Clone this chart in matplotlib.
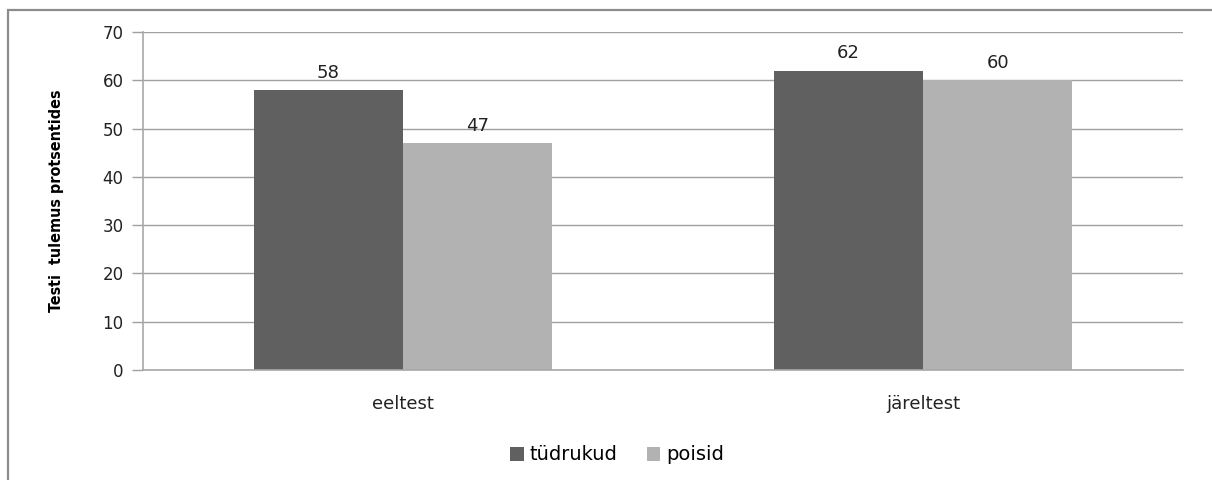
import numpy as np
import matplotlib
matplotlib.use('Agg')
from matplotlib import pyplot as plt
from matplotlib.patches import Rectangle, Patch

plt.rcParams['font.family'] = ['DejaVu Sans']

testid = ['eeltest', 'järeltest']
seeriad = ['tüdrukud', 'poisid']
tudrukud = [58, 62]
poisid = [47, 60]
varvid = ['#606060', '#b2b2b2']

W, H = 1212, 480
fig = plt.figure(figsize=(W / 100, H / 100), dpi=100)

# outer chart frame (only left and top edges fall inside the image)
fig.patches.append(Rectangle((8 / W, -0.1), 1.2, 1 - 10 / H + 0.1,
                             transform=fig.transFigure, fill=False,
                             edgecolor='#8c8c8c', linewidth=1.6))

ax = fig.add_axes([143 / W, 1 - 370 / H, (1183 - 143) / W, (370 - 32) / H])

x = np.arange(len(testid))
laius = 0.287
for i, (vals, nimi) in enumerate(zip([tudrukud, poisid], seeriad)):
    pos = x + (i - 0.5) * laius
    ax.bar(pos, vals, width=laius, color=varvid[i], label=nimi, zorder=2)
    for p, v in zip(pos, vals):
        ax.text(p, v + 1.7, str(v), ha='center', va='bottom', fontsize=13,
                color='#222222')

ax.set_xlim(-0.5, 1.5)
ax.set_ylim(0, 70)
ax.set_yticks(np.arange(0, 71, 10))
ax.yaxis.grid(True, color='#a0a0a0', linewidth=1.0, zorder=0)
ax.set_axisbelow(True)
ax.set_xticks(x)
ax.set_xticklabels(testid, fontsize=13, color='#222222')
ax.tick_params(axis='x', length=0, pad=18)
ax.tick_params(axis='y', length=8, width=1, color='#a0a0a0', labelsize=12,
               labelcolor='#222222', pad=6)
for s in ['top', 'right']:
    ax.spines[s].set_visible(False)
for s in ['left', 'bottom']:
    ax.spines[s].set_color('#a8a8a8')
    ax.spines[s].set_linewidth(1.2)

ax.set_ylabel('Testi  tulemus protsentides', fontsize=11.5, fontweight='bold',
              fontstretch='condensed', labelpad=28)

handles = [Patch(facecolor=c, label=n) for c, n in zip(varvid, seeriad)]
fig.legend(handles=handles, loc='center', bbox_to_anchor=(617 / W, 1 - 455 / H),
           ncol=2, frameon=False, fontsize=14, handlelength=0.7,
           handleheight=0.7, handletextpad=0.3, columnspacing=1.5)

plt.savefig('out.png', dpi=100)
